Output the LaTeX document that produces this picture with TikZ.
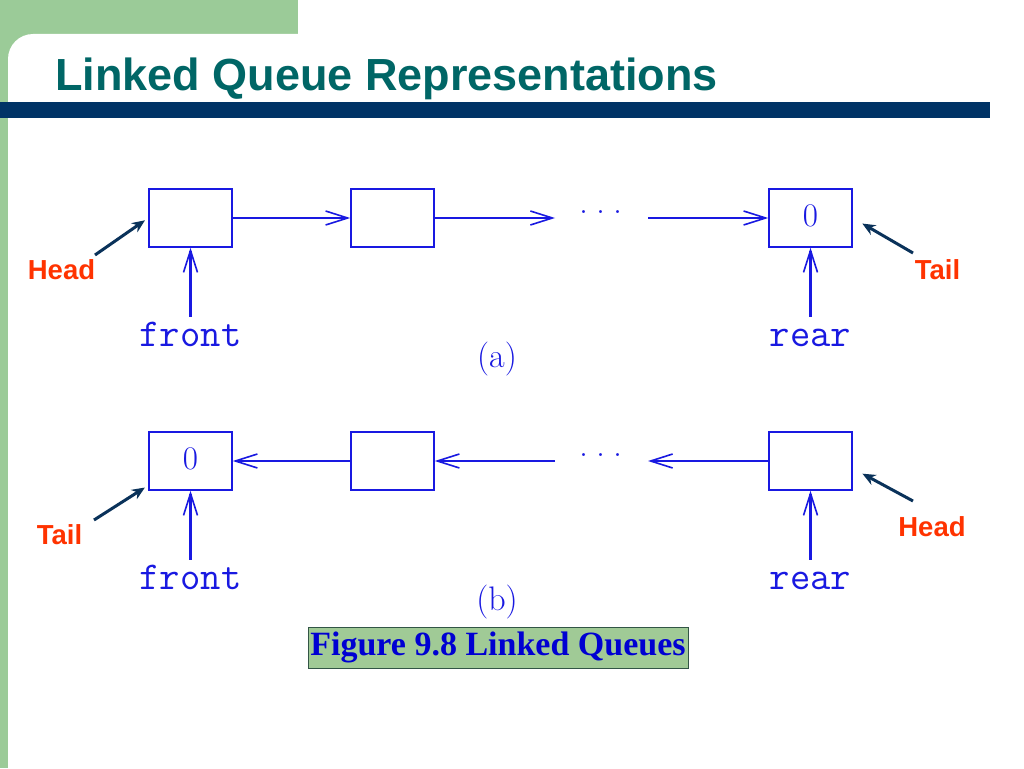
\documentclass[tikz,border=0pt]{standalone}
\usepackage{fontspec}
\usepackage{tikz}
\usetikzlibrary{arrows.meta,positioning}
\newfontfamily\headfont{Liberation Sans}
\newfontfamily\capfont{Liberation Serif}
\definecolor{slidegreen}{RGB}{155,203,152}
\definecolor{barnavy}{RGB}{0,51,102}
\definecolor{titleteal}{RGB}{0,102,102}
\definecolor{qblue}{RGB}{25,25,225}
\definecolor{qred}{RGB}{255,51,0}
\definecolor{ptrnavy}{RGB}{10,50,90}
\definecolor{capgreen}{RGB}{160,202,150}
\definecolor{capborder}{RGB}{50,85,70}
\definecolor{capblue}{RGB}{0,0,210}

\begin{document}
\begin{tikzpicture}[x=1pt,y=-1pt]
    \tikzstyle{cell} = [draw=qblue, line width=1.5pt, minimum width=83pt,
    minimum height=58pt, inner sep=0pt, text=qblue,
    font=\fontsize{33}{33}\selectfont]
    \tikzstyle{link} = [draw=qblue, line width=2.2pt,
    -{Straight Barb[length=22pt,width=14pt,line width=1.6pt]}]
    \tikzstyle{ptr} = [anchor=base, inner sep=0pt, text height=21pt,
    text depth=0pt, text=qblue, font=\ttfamily\fontsize{39.5}{39.5}\selectfont]
    \tikzstyle{tag} = [inner sep=0pt, text=qred,
    font=\headfont\bfseries\fontsize{27.5}{27.5}\selectfont]
    \tikzstyle{pointer} = [draw=ptrnavy, line width=3pt,
    -{Stealth[length=13pt,width=11pt]}]
    \tikzstyle{dots} = [inner sep=0pt, text=qblue,
    font=\fontsize{36}{36}\selectfont]
    \tikzstyle{sub} = [inner sep=0pt, text=qblue,
    font=\fontsize{34}{34}\selectfont]

    \useasboundingbox (0,0) rectangle (1024,768);

    % slide background
    \fill[white] (0,0) rectangle (1024,768);
    \fill[slidegreen] (0,0) rectangle (298,60);
    \fill[slidegreen] (0,0) rectangle (8,768);
    \fill[white, rounded corners=25pt] (8,34) rectangle (500,300);
    \fill[barnavy] (0,102) rectangle (990,118);
    \node[anchor=base west, inner sep=0pt, text=titleteal,
    font=\headfont\bfseries\fontsize{45}{45}\selectfont]
    (title) at (55,90) {Linked Queue Representations};

    % (a)
    \draw
    (190.5,218) node [cell] (a1) {}
    (392.5,218) node [cell] (a2) {}
    (810.5,218) node [cell] (a3) {\raisebox{4pt}{0}}
    (601,212) node [dots] (da) {.\hspace{8pt}.\hspace{8pt}.}
    (190.5,346) node [ptr] (fa) {front}
    (810.5,346) node [ptr] (ra) {rear}
    (497,359) node [sub] (suba) {(a)}
    (61.5,270) node [tag] (ha) {Head}
    (937.5,270) node [tag] (ta) {Tail}
;
    \coordinate (la) at (555,218);
    \coordinate (ma) at (648,218);
    \draw[link] (a1) -- (a2);
    \draw[link] (a2) -- (la);
    \draw[link] (ma) -- (a3);
    \draw[link, shorten <=8pt] (fa) -- (a1);
    \draw[link, shorten <=8pt] (ra) -- (a3);
    \coordinate (hap) at (95,255);
    \coordinate (tap) at (913,253);
    \draw[pointer, shorten >=4pt] (hap) -- (a1.west);
    \draw[pointer, shorten >=11pt] (tap) -- (a3.east);

    % (b)
    \draw
    (190.5,461) node [cell] (b1) {\raisebox{4pt}{0}}
    (392.5,461) node [cell] (b2) {}
    (810.5,461) node [cell] (b3) {}
    (601,455) node [dots] (db) {.\hspace{8pt}.\hspace{8pt}.}
    (190.5,589) node [ptr] (fb) {front}
    (810.5,589) node [ptr] (rb) {rear}
    (497,602) node [sub] (subb) {(b)}
    (59.5,535) node [tag] (tb) {Tail}
    (932,527) node [tag] (hb) {Head}
;
    \coordinate (lb) at (555,461);
    \coordinate (mb) at (648,461);
    \draw[link] (b2) -- (b1);
    \draw[link] (lb) -- (b2);
    \draw[link] (b3) -- (mb);
    \draw[link, shorten <=8pt] (fb) -- (b1);
    \draw[link, shorten <=8pt] (rb) -- (b3);
    \coordinate (tbp) at (94,520);
    \coordinate (hbp) at (913,501);
    \draw[pointer, shorten >=4pt] (tbp) -- (b1.210);
    \draw[pointer, shorten >=11pt] (hbp) -- (b3.-10);

    % caption
    \node[draw=capborder, line width=1pt, fill=capgreen, text=capblue,
    minimum width=380pt, minimum height=41pt, inner sep=0pt,
    font=\capfont\bfseries\fontsize{34}{34}\selectfont]
    (cap) at (498,647.5) {Figure 9.8 Linked Queues};
  \end{tikzpicture}
\end{document}
